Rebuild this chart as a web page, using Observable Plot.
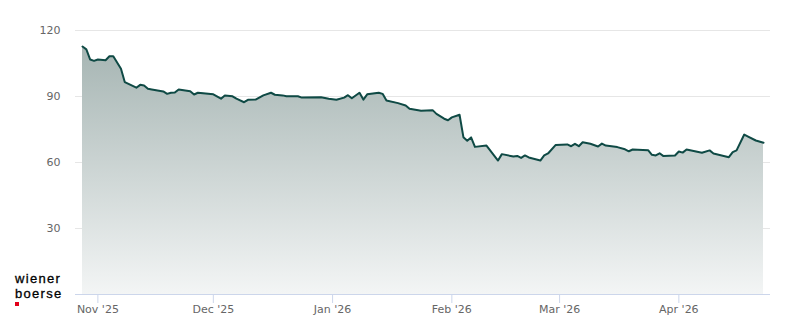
<!DOCTYPE html>
<html>
<head>
<meta charset="utf-8">
<script src="https://cdn.jsdelivr.net/npm/d3@7"></script>
<script src="https://cdn.jsdelivr.net/npm/@observablehq/plot@0.6"></script>
<style>
  html, body { margin: 0; padding: 0; background: #fff; }
  #wrap { position: relative; width: 800px; height: 324px; overflow: hidden; }
  .logo { position: absolute; left: 15px; height: 15px; font-family: "Liberation Sans", Arial, sans-serif; font-size: 13px; line-height: 15px; color: #000; letter-spacing: 1.3px; white-space: nowrap; -webkit-text-stroke: 0.3px #000; }
  #logo1 { top: 271px; }
  #logo2 { top: 286px; }
  #dot { position: absolute; left: 15px; top: 302px; width: 4px; height: 4px; background: #e2001a; }
</style>
</head>
<body>
<div id="wrap"><div class="logo" id="logo1">wiener</div><div class="logo" id="logo2">boerse</div><div id="dot"></div></div>
<script>
const dates = [
  "2025-10-28","2025-10-29","2025-10-30","2025-10-31","2025-11-01","2025-11-03","2025-11-04","2025-11-05",
  "2025-11-07","2025-11-08","2025-11-11","2025-11-12","2025-11-13","2025-11-14","2025-11-15","2025-11-18",
  "2025-11-19","2025-11-20","2025-11-21","2025-11-22","2025-11-25","2025-11-26","2025-11-27","2025-12-01",
  "2025-12-03","2025-12-04","2025-12-06","2025-12-07","2025-12-09","2025-12-10","2025-12-12","2025-12-14",
  "2025-12-16","2025-12-17","2025-12-19","2025-12-20","2025-12-23","2025-12-24","2025-12-29","2025-12-31",
  "2026-01-02","2026-01-04","2026-01-05","2026-01-06","2026-01-08","2026-01-09","2026-01-10","2026-01-13",
  "2026-01-14","2026-01-15","2026-01-18","2026-01-20","2026-01-21","2026-01-24","2026-01-27","2026-01-28",
  "2026-01-30","2026-01-31","2026-02-01","2026-02-03","2026-02-04","2026-02-05","2026-02-06","2026-02-07",
  "2026-02-10","2026-02-13","2026-02-14","2026-02-17","2026-02-18","2026-02-19","2026-02-20","2026-02-21",
  "2026-02-24","2026-02-25","2026-02-26","2026-02-28","2026-03-03","2026-03-04","2026-03-05","2026-03-06",
  "2026-03-07","2026-03-09","2026-03-11","2026-03-12","2026-03-13","2026-03-16","2026-03-18","2026-03-19",
  "2026-03-20","2026-03-24","2026-03-25","2026-03-26","2026-03-27","2026-03-28","2026-03-31","2026-04-01",
  "2026-04-02","2026-04-03","2026-04-07","2026-04-09","2026-04-10","2026-04-14","2026-04-15","2026-04-16",
  "2026-04-18","2026-04-19","2026-04-21","2026-04-23"
];
const prices = [
  112.7,111.4,106.8,106.2,106.8,106.5,108.3,108.3,
  102.6,96.5,94.0,95.3,95.0,93.5,93.2,92.3,
  91.2,91.7,91.8,93.2,92.4,90.9,91.7,91.0,
  89.0,90.5,90.1,89.0,87.4,88.5,88.6,90.5,
  91.7,90.8,90.5,90.1,90.1,89.5,89.7,89.0,
  88.5,89.5,90.6,89.2,91.7,88.6,91.0,91.7,
  91.2,88.2,87.0,85.9,84.4,83.5,83.8,82.1,
  79.9,79.2,80.5,81.7,71.5,69.9,71.4,67.1,
  67.7,60.9,63.8,62.7,63.0,62.1,63.2,62.3,
  60.9,63.2,64.1,68.0,68.2,67.4,68.5,67.4,
  69.2,68.5,67.3,68.6,67.7,67.0,66.0,65.1,
  65.9,65.6,63.5,63.2,64.2,62.9,63.2,65.0,
  64.5,65.9,64.4,65.5,64.1,62.4,64.7,65.5,
  72.7,71.8,70.0,69.0
];
const yTicks = [30, 60, 90, 120];
const xTicks = ["2025-11-01","2025-12-01","2026-01-01","2026-02-01","2026-03-01","2026-04-01"];

const data = dates.map((d, i) => ({date: new Date(d + "T00:00:00Z"), value: prices[i]}));
const xTickDates = xTicks.map(d => new Date(d + "T00:00:00Z"));

const font = "'DejaVu Sans', sans-serif";
const chart = Plot.plot({
  width: 800,
  height: 324,
  marginTop: 30,
  marginBottom: 30,
  marginLeft: 75,
  marginRight: 30,
  style: {fontFamily: font, fontSize: "11px", color: "#666", background: "transparent"},
  x: {type: "utc", insetLeft: 7, insetRight: 7},
  y: {domain: [0, 120]},
  marks: [
    Plot.gridY(yTicks, {stroke: "#e6e6e6", strokeOpacity: 1}),
    Plot.areaY(data, {x: "date", y: "value", fill: "url(#areaGrad)"}),
    Plot.ruleY([0], {stroke: "#ccd6eb", strokeWidth: 1}),
    Plot.lineY(data, {x: "date", y: "value", stroke: "#0f4a45", strokeWidth: 2, strokeLinejoin: "round"}),
    Plot.axisY(yTicks, {tickSize: 0, tickPadding: 15, label: null, fill: "#666", fontSize: 11}),
    Plot.axisX(xTickDates, {tickSize: 9, tickPadding: 2, stroke: "#ccd6eb", strokeOpacity: 1, label: null, fill: "#666", fontSize: 11, tickFormat: d3.utcFormat("%b '%y")})
  ]
});

const defs = d3.select(chart).insert("defs", ":first-child");
const g = defs.append("linearGradient").attr("id", "areaGrad").attr("x1", 0).attr("y1", 0).attr("x2", 0).attr("y2", 1);
g.append("stop").attr("offset", "0%").attr("stop-color", "#a6b5b3");
g.append("stop").attr("offset", "100%").attr("stop-color", "#f3f5f5");

document.getElementById("wrap").prepend(chart);
</script>
</body>
</html>
